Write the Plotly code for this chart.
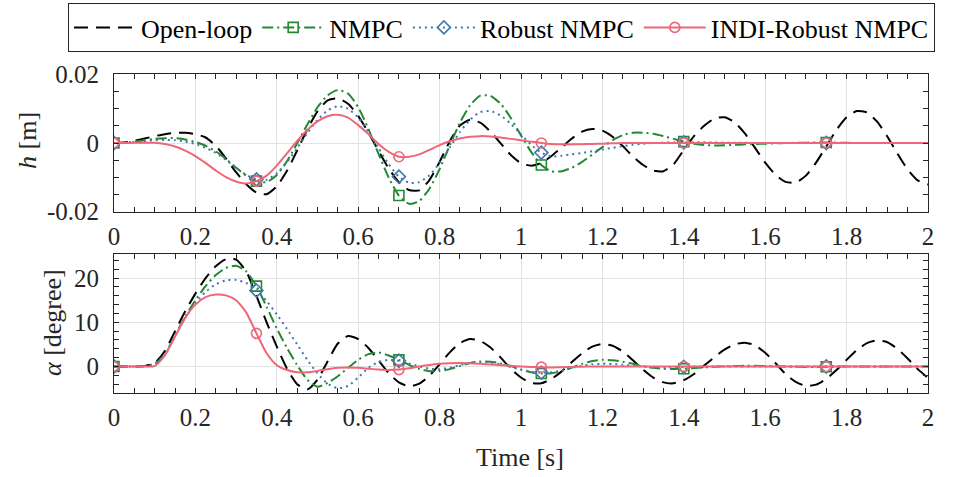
import numpy as np
import plotly.graph_objects as go

# ---------------- data ----------------
t = np.round(np.linspace(0, 2, 81), 3)          # time grid [s], 0.025 s step
marker_times = [0, 0.35, 0.7, 1.05, 1.4, 1.75]

series_names = ["Open-loop", "NMPC", "Robust NMPC", "INDI-Robust NMPC"]

# plunge h in mm (converted to m below)
h_open_mm = [0.0, 0.17, 0.63, 1.29, 1.99, 2.58, 2.94, 3.0, 2.6, 1.6,
             -0.8, -4.5, -8.5, -12.0, -14.4, -14.9, -12.6, -8.1, -2.2, 4.0,
             9.2, 12.4, 13.0, 11.4, 7.9, 3.0, -2.3, -7.4, -11.4, -13.7,
             -13.8, -10.8, -5.5, 0.5, 5.1, 6.8, 5.9, 3.3, -0.1, -3.5,
             -5.9, -6.6, -5.8, -3.8, -1.3, 1.3, 3.3, 4.1, 3.6, 1.8,
             -0.9, -3.9, -6.4, -8.0, -8.2, -6.2, -2.0, 2.0, 5.0, 7.1,
             7.5, 6.0, 2.8, -1.4, -5.7, -9.2, -11.3, -11.5, -9.5, -5.7,
             -1.0, 3.8, 7.5, 9.3, 8.9, 6.2, 1.9, -3.1, -7.7, -10.9,
             -12.1]
h_nmpc_mm = [0.0, 0.1, 0.4, 0.8, 1.2, 1.4, 1.4, 1.0, 0.3, -0.8,
             -2.4, -4.6, -7.2, -9.5, -11.1, -11.4, -9.3, -5.3, -0.1, 5.4,
             10.4, 13.9, 15.4, 14.4, 10.4, 4.1, -3.2, -10.1, -15.3, -17.7,
             -16.9, -13.3, -7.6, -0.7, 5.9, 11.0, 13.8, 13.7, 11.4, 7.3,
             2.2, -2.6, -6.4, -8.3, -8.2, -7.2, -5.5, -3.4, -1.2, 0.8,
             2.3, 3.0, 3.0, 2.7, 2.0, 1.2, 0.4, -0.2, -0.6, -0.7,
             -0.65, -0.55, -0.4, -0.3, -0.2, -0.1, 0.0, 0.05, 0.1, 0.15,
             0.15, 0.1, 0.05, 0.0, 0.0, 0.0, 0.0, 0.0, 0.0, 0.0,
             0.0]
h_robust_mm = [0.0, 0.05, 0.25, 0.55, 0.8, 0.9, 0.8, 0.4, -0.3, -1.4,
               -2.9, -4.9, -7.2, -9.3, -10.6, -10.7, -8.8, -5.6, -1.5, 2.9,
               6.7, 9.5, 10.7, 10.0, 7.4, 3.3, -1.5, -6.2, -9.8, -11.6,
               -11.4, -9.4, -5.8, -1.3, 3.2, 6.8, 9.0, 9.3, 8.0, 5.6,
               2.5, -0.5, -2.8, -3.9, -3.7, -3.3, -2.9, -2.4, -1.9, -1.4,
               -0.9, -0.5, -0.2, 0.0, 0.1, 0.15, 0.2, 0.2, 0.2, 0.15,
               0.1, 0.1, 0.05, 0.0, 0.0, 0.0, 0.0, 0.0, 0.0, 0.0,
               0.0, 0.0, 0.0, 0.0, 0.0, 0.0, 0.0, 0.0, 0.0, 0.0,
               0.0]
h_indi_mm = [0.0, 0.0, 0.05, 0.1, 0.05, -0.3, -1.0, -2.2, -3.8, -5.8,
             -8.0, -9.9, -11.2, -11.8, -11.1, -9.5, -6.6, -3.0, 0.6, 3.8,
             6.3, 7.8, 8.2, 7.4, 5.2, 2.6, -0.3, -2.6, -4.0, -4.0,
             -3.3, -2.0, -0.6, 0.5, 1.3, 1.8, 2.0, 1.9, 1.6, 1.2,
             0.8, 0.4, 0.0, -0.3, -0.4, -0.4, -0.35, -0.3, -0.2, -0.1,
             0.0, 0.0, 0.0, 0.0, 0.0, 0.0, 0.0, 0.0, 0.0, 0.0,
             0.0, 0.0, 0.0, 0.0, 0.0, 0.0, 0.0, 0.0, 0.0, 0.0,
             0.0, 0.0, 0.0, 0.0, 0.0, 0.0, 0.0, 0.0, 0.0, 0.0,
             0.0]

# pitch alpha in degree
a_open = [0.0, 0.0, 0.0, 0.1, 0.8, 3.5, 8.0, 12.5, 16.5, 20.0,
          22.7, 24.3, 24.2, 21.5, 16.0, 10.0, 4.5, -0.5, -4.0, -5.2,
          -3.0, 1.2, 5.2, 6.9, 6.2, 4.2, 1.4, -1.5, -3.6, -4.5,
          -3.9, -2.1, 0.5, 3.2, 5.3, 6.2, 5.8, 4.3, 2.0, -0.5,
          -2.5, -3.7, -3.8, -2.8, -1.1, 1.0, 3.0, 4.5, 5.1, 4.7,
          3.4, 1.4, -0.7, -2.5, -3.6, -3.8, -3.1, -1.7, 0.2, 2.1,
          3.8, 5.0, 5.4, 4.8, 3.1, 0.8, -1.7, -3.5, -4.4, -4.1,
          -2.8, -0.8, 1.5, 3.7, 5.3, 5.9, 5.5, 4.0, 1.8, -0.6,
          -2.6]
a_nmpc = [0.0, 0.0, 0.0, 0.1, 0.6, 2.8, 7.0, 11.3, 15.0, 18.2,
          20.7, 22.3, 22.8, 21.5, 18.2, 13.5, 8.6, 4.2, 0.3, -3.0,
          -4.6, -3.7, -2.2, -0.3, 1.5, 2.8, 3.2, 2.5, 1.5, 0.35,
          -0.55, -1.05, -1.0, -0.6, 0.1, 0.8, 1.15, 1.1, 0.7, 0.1,
          -0.7, -1.3, -1.6, -1.55, -1.05, -0.25, 0.6, 1.25, 1.5, 1.4,
          1.1, 0.6, 0.1, -0.3, -0.5, -0.55, -0.5, -0.35, -0.2, -0.05,
          0.05, 0.1, 0.15, 0.15, 0.1, 0.05, 0.0, -0.05, -0.1, -0.1,
          -0.05, 0.0, 0.0, 0.0, 0.0, 0.0, 0.0, 0.0, 0.0, 0.0,
          0.0]
a_robust = [0.0, 0.0, 0.0, 0.1, 0.6, 2.7, 6.9, 11.0, 14.3, 16.9,
            18.6, 19.5, 19.6, 18.9, 17.2, 14.8, 11.8, 8.5, 5.0, 1.5,
            -1.6, -3.9, -4.9, -4.4, -2.5, -0.3, 1.0, 1.5, 1.3, 0.7,
            0.0, -0.5, -0.6, -0.3, 0.3, 0.8, 1.0, 0.9, 0.5, -0.1,
            -0.7, -1.2, -1.4, -1.3, -0.9, -0.3, 0.2, 0.5, 0.6, 0.55,
            0.4, 0.2, 0.0, -0.15, -0.2, -0.2, -0.1, 0.0, 0.0, 0.0,
            0.0, 0.0, 0.0, 0.0, 0.0, 0.0, 0.0, 0.0, 0.0, 0.0,
            0.0, 0.0, 0.0, 0.0, 0.0, 0.0, 0.0, 0.0, 0.0, 0.0,
            0.0]
a_indi = [0.0, 0.0, 0.0, 0.0, 0.1, 2.5, 6.8, 11.0, 14.0, 15.7,
          16.3, 16.1, 15.0, 12.2, 7.5, 3.0, 0.3, -0.8, -1.3, -1.3,
          -1.0, -0.6, -0.3, -0.2, -0.3, -0.5, -0.7, -0.8, -0.7, -0.4,
          0.0, 0.35, 0.6, 0.75, 0.8, 0.75, 0.6, 0.45, 0.3, 0.15,
          0.0, -0.1, -0.15, -0.2, -0.15, -0.1, -0.05, 0.0, 0.0, 0.0,
          0.0, 0.0, 0.0, 0.0, 0.0, 0.0, 0.0, 0.0, 0.0, 0.0,
          0.0, 0.0, 0.0, 0.0, 0.0, 0.0, 0.0, 0.0, 0.0, 0.0,
          0.0, 0.0, 0.0, 0.0, 0.0, 0.0, 0.0, 0.0, 0.0, 0.0,
          0.0]

h_tickvals = [-0.02, 0, 0.02]
h_ticktext = ["-0.02", "0", "0.02"]
a_tickvals = [0, 10, 20]
x_tickvals = [0, 0.2, 0.4, 0.6, 0.8, 1, 1.2, 1.4, 1.6, 1.8, 2]
x_ticktext = ["0", "0.2", "0.4", "0.6", "0.8", "1", "1.2", "1.4", "1.6", "1.8", "2"]

# ---------------- styles ----------------
W, H = 966, 477
FONT = "Liberation Serif, Times New Roman, Times, serif"
AXC = "#262626"
styles = [
    dict(color="#000000", dash="14px,8px", symbol=None, width=2.0),
    dict(color="#228833", dash="11px,4px,2px,4px", symbol="square-open", width=2.0),
    dict(color="#4477AA", dash="2px,4px", symbol="diamond-open", width=2.0),
    dict(color="#EE6677", dash="solid", symbol="circle-open", width=2.0),
]

h_series = [np.array(v) / 1000.0 for v in (h_open_mm, h_nmpc_mm, h_robust_mm, h_indi_mm)]
a_series = [np.array(v) for v in (a_open, a_nmpc, a_robust, a_indi)]
midx = [int(np.argmin(np.abs(t - mt))) for mt in marker_times]

fig = go.Figure()

for ys, (xa, ya) in ((h_series, ("x", "y")), (a_series, ("x2", "y2"))):
    for name, y, st in zip(series_names, ys, styles):
        fig.add_trace(go.Scatter(
            x=t, y=y, mode="lines", name=name, showlegend=False,
            line=dict(color=st["color"], dash=st["dash"], width=st["width"], shape="spline", smoothing=0.6),
            xaxis=xa, yaxis=ya, hoverinfo="skip"))
        if st["symbol"]:
            fig.add_trace(go.Scatter(
                x=t[midx], y=y[midx], mode="markers", showlegend=False,
                marker=dict(symbol=st["symbol"], size=10, color=st["color"],
                            line=dict(color=st["color"], width=1.6)),
                xaxis=xa, yaxis=ya, hoverinfo="skip"))

# legend entries
for name, st in zip(series_names, styles):
    mode = "lines+markers" if st["symbol"] else "lines"
    kw = dict(marker=dict(symbol=st["symbol"], size=10, color=st["color"],
                          line=dict(color=st["color"], width=1.6))) if st["symbol"] else {}
    fig.add_trace(go.Scatter(x=[None], y=[None], mode=mode, name=name,
                             line=dict(color=st["color"], dash=st["dash"], width=st["width"]),
                             xaxis="x", yaxis="y", **kw))

x0, x1 = 114 / W, 928 / W
top_dom = [1 - 211.7 / H, 1 - 74.3 / H]
bot_dom = [1 - 393.0 / H, 1 - 254.3 / H]

common = dict(showline=True, linecolor=AXC, linewidth=1, mirror="ticks",
              ticks="inside", ticklen=5, tickwidth=1, tickcolor=AXC,
              showgrid=True, gridcolor="#e2e2e2", gridwidth=1, zeroline=False,
              tickfont=dict(family=FONT, size=25, color=AXC))

xcommon = dict(common, range=[0, 2], tickvals=x_tickvals, ticktext=x_ticktext,
               ticklabelstandoff=2,
               minor=dict(dtick=0.05, tick0=0, ticks="inside", ticklen=5, tickcolor=AXC, showgrid=False))

fig.update_layout(
    width=W, height=H,
    margin=dict(l=0, r=0, t=0, b=0, autoexpand=False),
    paper_bgcolor="white", plot_bgcolor="white",
    xaxis=dict(xcommon, domain=[x0, x1], anchor="y"),
    yaxis=dict(common, domain=top_dom, anchor="x", range=[-0.02, 0.02],
               tickvals=h_tickvals, ticktext=h_ticktext, ticklabelstandoff=9,
               minor=dict(dtick=0.005, tick0=0, ticks="inside", ticklen=5, tickcolor=AXC, showgrid=False)),
    xaxis2=dict(xcommon, domain=[x0, x1], anchor="y2"),
    yaxis2=dict(common, domain=bot_dom, anchor="x2", range=[-6, 25.4],
                tickvals=a_tickvals, ticklabelstandoff=9,
                minor=dict(dtick=2, tick0=0, ticks="inside", ticklen=5, tickcolor=AXC, showgrid=False)),
    legend=dict(orientation="h", x=68 / W, y=1 - 3 / H, xanchor="left", yanchor="top",
                bordercolor=AXC, borderwidth=1, bgcolor="white",
                font=dict(family=FONT, size=26, color="black"), itemwidth=62,
                tracegroupgap=0),
    annotations=[
        dict(text="<i>h</i> [m]", x=28 / W, y=1 - 141 / H, xref="paper", yref="paper",
             xanchor="center", yanchor="middle",
             textangle=-90, showarrow=False, font=dict(family=FONT, size=26, color=AXC)),
        dict(text="<i>α</i> [degree]", x=52 / W, y=1 - 323 / H, xref="paper", yref="paper",
             xanchor="center", yanchor="middle",
             textangle=-90, showarrow=False, font=dict(family=FONT, size=26, color=AXC)),
        dict(text="Time [s]", x=520 / W, y=1 - 457 / H, xref="paper", yref="paper",
             xanchor="center", yanchor="middle",
             showarrow=False, font=dict(family=FONT, size=26, color=AXC)),
    ],
)

fig.write_html("out.html")
